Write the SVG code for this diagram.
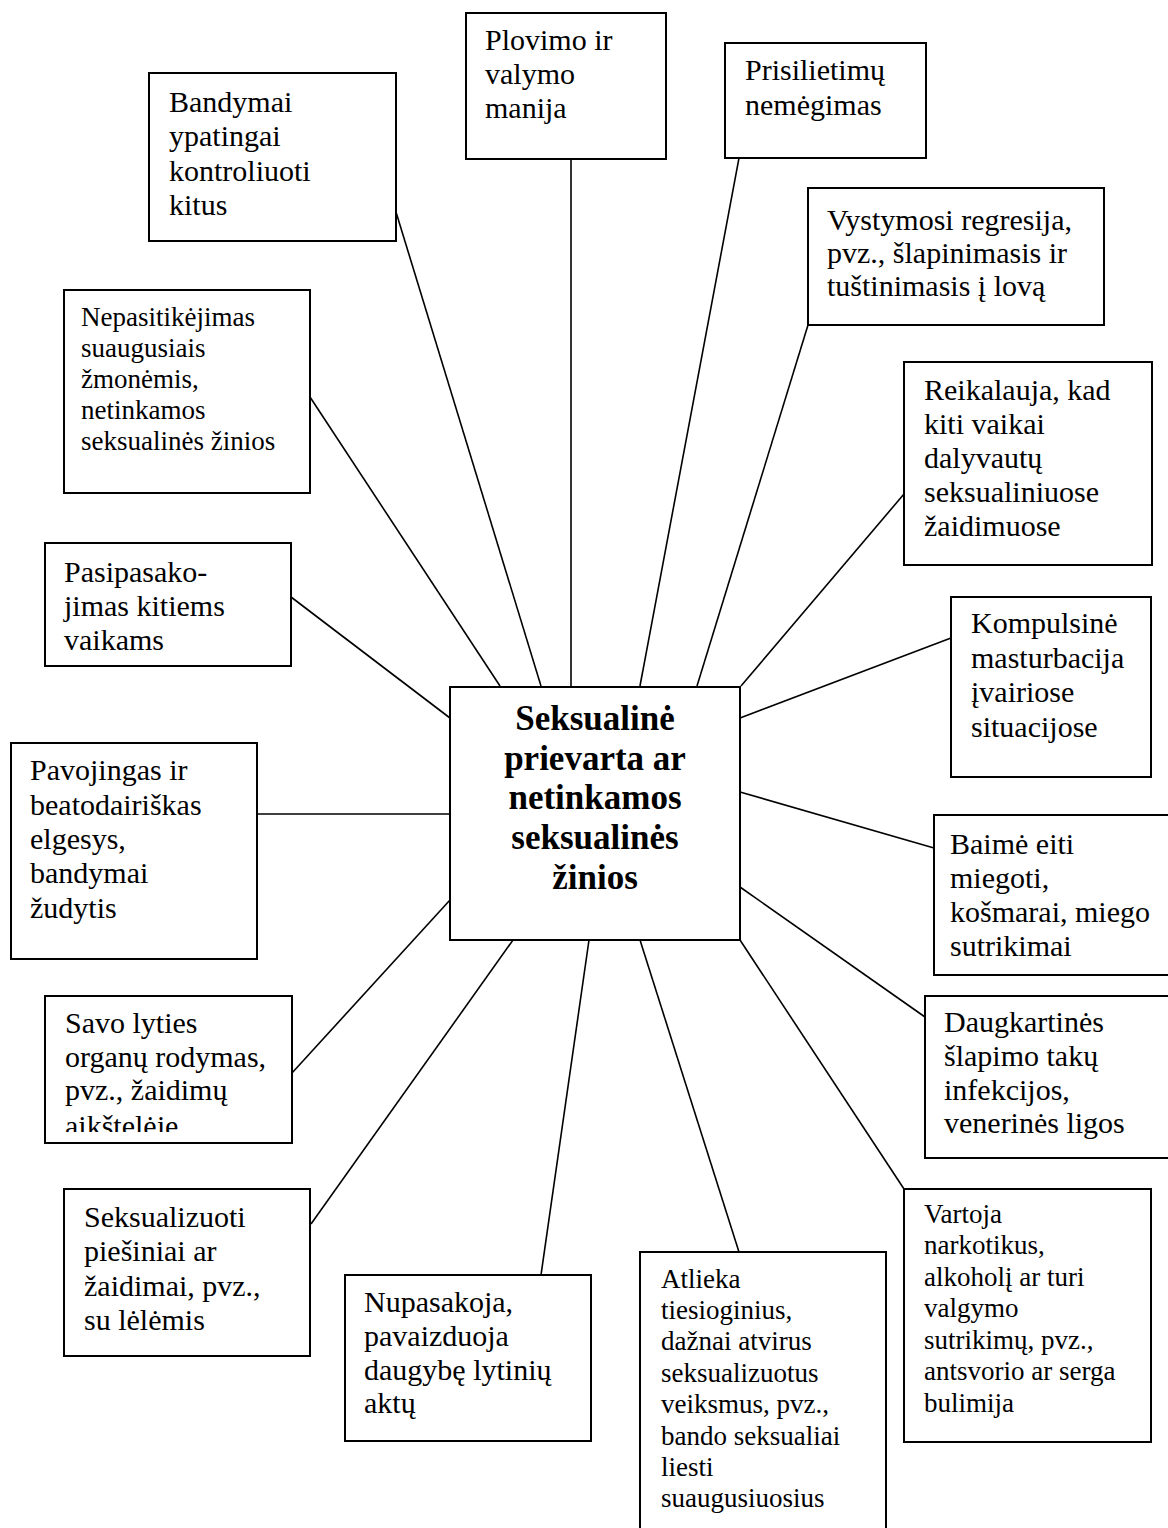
<svg xmlns="http://www.w3.org/2000/svg" width="1168" height="1528" viewBox="0 0 1168 1528">
<defs>
<style>
.box{fill:#fff;stroke:#000;stroke-width:2}
.t{font-family:"Liberation Serif","Times New Roman",serif;font-size:30px;fill:#000}
.s{font-size:27px}
.c{font-family:"Liberation Serif","Times New Roman",serif;font-size:35px;font-weight:bold;fill:#000;text-anchor:middle}
.ln{stroke:#000;stroke-width:1.6;fill:none}
</style>
<clipPath id="clipSavo"><rect x="45" y="996" width="247" height="136"/></clipPath>
</defs>
<rect width="1168" height="1528" fill="#fff"/>
<g id="connectors">
<line class="ln" x1="571" y1="159" x2="571" y2="686"/>
<line class="ln" x1="396" y1="212" x2="541" y2="686"/>
<line class="ln" x1="310" y1="397" x2="500" y2="686"/>
<line class="ln" x1="739" y1="158" x2="640" y2="686"/>
<line class="ln" x1="808" y1="325" x2="697" y2="686"/>
<line class="ln" x1="904" y1="494" x2="741" y2="686"/>
<line class="ln" x1="291" y1="597" x2="450" y2="718"/>
<line class="ln" x1="740" y1="718" x2="951" y2="638"/>
<line class="ln" x1="257" y1="814" x2="450" y2="814"/>
<line class="ln" x1="740" y1="792" x2="934" y2="848"/>
<line class="ln" x1="450" y1="900" x2="292" y2="1073"/>
<line class="ln" x1="740" y1="887" x2="925" y2="1017"/>
<line class="ln" x1="513" y1="940" x2="311" y2="1224"/>
<line class="ln" x1="589" y1="940" x2="541" y2="1275"/>
<line class="ln" x1="640" y1="940" x2="739" y2="1252"/>
<line class="ln" x1="740" y1="940" x2="904" y2="1189"/>
</g>
<g id="center">
<rect class="box" x="450" y="687" width="290" height="253"/>
<text class="c"><tspan x="595" y="730">Seksualinė</tspan><tspan x="595" y="770">prievarta ar</tspan><tspan x="595" y="809">netinkamos</tspan><tspan x="595" y="849">seksualinės</tspan><tspan x="595" y="889">žinios</tspan></text>
</g>
<g id="plovimo">
<rect class="box" x="466" y="13" width="200" height="146"/>
<text class="t"><tspan x="485" y="50">Plovimo ir</tspan><tspan x="485" y="84">valymo</tspan><tspan x="485" y="118">manija</tspan></text>
</g>
<g id="prisilietimu">
<rect class="box" x="725" y="43" width="201" height="115"/>
<text class="t"><tspan x="745" y="80">Prisilietimų</tspan><tspan x="745" y="115">nemėgimas</tspan></text>
</g>
<g id="bandymai">
<rect class="box" x="149" y="73" width="247" height="168"/>
<text class="t"><tspan x="169" y="112">Bandymai</tspan><tspan x="169" y="146">ypatingai</tspan><tspan x="169" y="181">kontroliuoti</tspan><tspan x="169" y="215">kitus</tspan></text>
</g>
<g id="vystymosi">
<rect class="box" x="808" y="188" width="296" height="137"/>
<text class="t"><tspan x="827" y="230">Vystymosi regresija,</tspan><tspan x="827" y="263">pvz., šlapinimasis ir</tspan><tspan x="827" y="296">tuštinimasis į lovą</tspan></text>
</g>
<g id="nepasitikejimas">
<rect class="box" x="64" y="290" width="246" height="203"/>
<text class="t s"><tspan x="81" y="326">Nepasitikėjimas</tspan><tspan x="81" y="357">suaugusiais</tspan><tspan x="81" y="388">žmonėmis,</tspan><tspan x="81" y="419">netinkamos</tspan><tspan x="81" y="450">seksualinės žinios</tspan></text>
</g>
<g id="reikalauja">
<rect class="box" x="904" y="362" width="248" height="203"/>
<text class="t"><tspan x="924" y="400">Reikalauja, kad</tspan><tspan x="924" y="434">kiti vaikai</tspan><tspan x="924" y="468">dalyvautų</tspan><tspan x="924" y="502">seksualiniuose</tspan><tspan x="924" y="536">žaidimuose</tspan></text>
</g>
<g id="pasipasakojimas">
<rect class="box" x="45" y="543" width="246" height="123"/>
<text class="t"><tspan x="64" y="582">Pasipasako-</tspan><tspan x="64" y="616">jimas kitiems</tspan><tspan x="64" y="650">vaikams</tspan></text>
</g>
<g id="kompulsine">
<rect class="box" x="951" y="597" width="200" height="180"/>
<text class="t"><tspan x="971" y="633">Kompulsinė</tspan><tspan x="971" y="668">masturbacija</tspan><tspan x="971" y="702">įvairiose</tspan><tspan x="971" y="737">situacijose</tspan></text>
</g>
<g id="pavojingas">
<rect class="box" x="11" y="743" width="246" height="216"/>
<text class="t"><tspan x="30" y="780">Pavojingas ir</tspan><tspan x="30" y="815">beatodairiškas</tspan><tspan x="30" y="849">elgesys,</tspan><tspan x="30" y="883">bandymai</tspan><tspan x="30" y="918">žudytis</tspan></text>
</g>
<g id="baime">
<rect class="box" x="934" y="815" width="250" height="160"/>
<text class="t"><tspan x="950" y="854">Baimė eiti</tspan><tspan x="950" y="888">miegoti,</tspan><tspan x="950" y="922">košmarai, miego</tspan><tspan x="950" y="956">sutrikimai</tspan></text>
</g>
<g id="savo">
<rect class="box" x="45" y="996" width="247" height="147"/>
<text class="t" clip-path="url(#clipSavo)"><tspan x="65" y="1033">Savo lyties</tspan><tspan x="65" y="1067">organų rodymas,</tspan><tspan x="65" y="1100">pvz., žaidimų</tspan><tspan x="65" y="1136">aikštelėje</tspan></text>
</g>
<g id="daugkartines">
<rect class="box" x="925" y="996" width="260" height="162"/>
<text class="t"><tspan x="944" y="1032">Daugkartinės</tspan><tspan x="944" y="1066">šlapimo takų</tspan><tspan x="944" y="1100">infekcijos,</tspan><tspan x="944" y="1133">venerinės ligos</tspan></text>
</g>
<g id="seksualizuoti">
<rect class="box" x="64" y="1189" width="246" height="167"/>
<text class="t"><tspan x="84" y="1227">Seksualizuoti</tspan><tspan x="84" y="1261">piešiniai ar</tspan><tspan x="84" y="1296">žaidimai, pvz.,</tspan><tspan x="84" y="1330">su lėlėmis</tspan></text>
</g>
<g id="vartoja">
<rect class="box" x="904" y="1189" width="247" height="253"/>
<text class="t s"><tspan x="924" y="1223">Vartoja</tspan><tspan x="924" y="1254">narkotikus,</tspan><tspan x="924" y="1286">alkoholį ar turi</tspan><tspan x="924" y="1317">valgymo</tspan><tspan x="924" y="1349">sutrikimų, pvz.,</tspan><tspan x="924" y="1380">antsvorio ar serga</tspan><tspan x="924" y="1412">bulimija</tspan></text>
</g>
<g id="nupasakoja">
<rect class="box" x="345" y="1275" width="246" height="166"/>
<text class="t"><tspan x="364" y="1312">Nupasakoja,</tspan><tspan x="364" y="1346">pavaizduoja</tspan><tspan x="364" y="1380">daugybę lytinių</tspan><tspan x="364" y="1413">aktų</tspan></text>
</g>
<g id="atlieka">
<rect class="box" x="640" y="1252" width="246" height="300"/>
<text class="t s"><tspan x="661" y="1288">Atlieka</tspan><tspan x="661" y="1319">tiesioginius,</tspan><tspan x="661" y="1350">dažnai atvirus</tspan><tspan x="661" y="1382">seksualizuotus</tspan><tspan x="661" y="1413">veiksmus, pvz.,</tspan><tspan x="661" y="1445">bando seksualiai</tspan><tspan x="661" y="1476">liesti</tspan><tspan x="661" y="1507">suaugusiuosius</tspan></text>
</g>
</svg>
